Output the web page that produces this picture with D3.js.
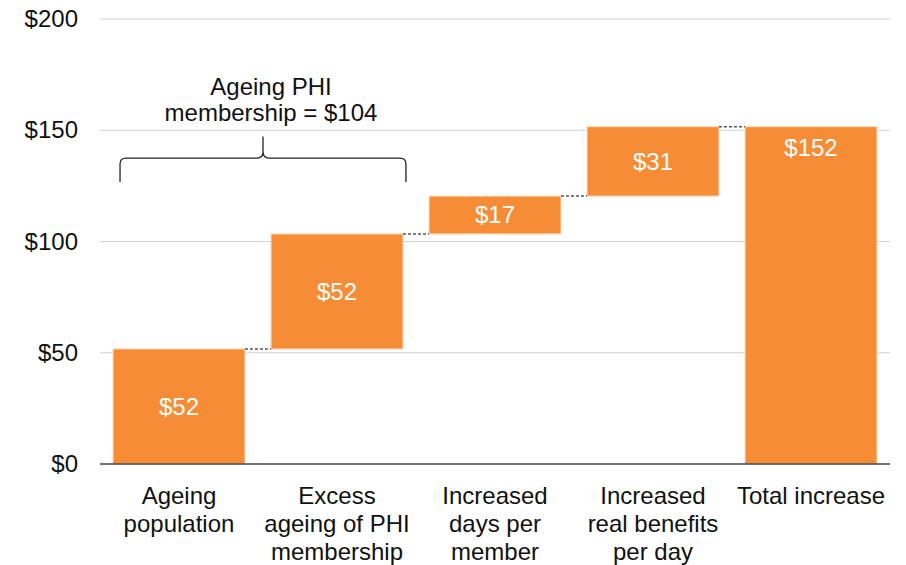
<!DOCTYPE html>
<html>
<head>
<meta charset="utf-8">
<script src="https://cdn.jsdelivr.net/npm/d3@7"></script>
<style>
  body { margin: 0; background: #fff; }
  text { font-family: "Liberation Sans", Arial, Helvetica, sans-serif; }
</style>
</head>
<body>
<div id="chart"><svg width="906" height="565"></svg></div>
<script>
// Data
let categories = [
  ["Ageing", "population"],
  ["Excess", "ageing of PHI", "membership"],
  ["Increased", "days per", "member"],
  ["Increased", "real benefits", "per day"],
  ["Total increase"]
];
let increments = [51.7, 51.7, 17.0, 31.2];
let total = 151.6;
let yTicks = [0, 50, 100, 150, 200];
let braceText = ["Ageing PHI", "membership = $104"];

// Global variables
let svg = d3.select("div#chart svg"),
  margin = { top: 19, right: 16, bottom: 101, left: 100 },
  width = svg.attr("width") - margin.left - margin.right,
  height = svg.attr("height") - margin.top - margin.bottom,
  g = svg.append("g").attr("transform", "translate(" + margin.left + "," + margin.top + ")");

// Build waterfall rows
let rows = [];
let running = 0;
increments.forEach((v, i) => {
  rows.push({ key: i, start: running, end: running + v, value: v, total: false });
  running += v;
});
rows.push({ key: increments.length, start: 0, end: total, value: total, total: true });

// Scales
let x = d3.scaleBand()
  .domain(rows.map(d => d.key))
  .range([0, width])
  .paddingInner(0.165)
  .paddingOuter(0.0825);
let y = d3.scaleLinear()
  .domain([0, 200])
  .range([height, 0]);

// Gridlines
g.append("g")
  .attr("class", "grid")
  .selectAll("line")
  .data(yTicks.filter(d => d > 0))
  .enter()
  .append("line")
    .attr("x1", 0)
    .attr("x2", width)
    .attr("y1", d => y(d))
    .attr("y2", d => y(d))
    .attr("stroke", "#cfd2d9")
    .attr("stroke-width", 1);

// Y axis labels
let yAxis = g.append("g")
  .attr("class", "axis axis_y")
  .call(d3.axisLeft(y).tickValues(yTicks).tickFormat(d => "$" + d).tickSize(0).tickPadding(22));
yAxis.select(".domain").remove();
yAxis.selectAll("text")
  .style("font-size", "24px")
  .style("fill", "#111");

// Bars
g.append("g")
  .attr("class", "bars")
  .selectAll("rect")
  .data(rows)
  .enter()
  .append("rect")
    .attr("x", d => x(d.key))
    .attr("y", d => y(d.end))
    .attr("width", x.bandwidth())
    .attr("height", d => y(d.start) - y(d.end))
    .attr("fill", "#f68d36")
    .attr("stroke", "#fcd9bb")
    .attr("stroke-width", 1);

// Connectors
g.append("g")
  .attr("class", "connectors")
  .selectAll("line")
  .data(rows.slice(0, -1))
  .enter()
  .append("line")
    .attr("x1", d => x(d.key) + x.bandwidth())
    .attr("x2", d => x(d.key + 1))
    .attr("y1", d => y(d.end))
    .attr("y2", d => y(d.end))
    .attr("stroke", "#555")
    .attr("stroke-width", 1.5)
    .attr("stroke-dasharray", "3,2");

// X axis baseline
g.append("line")
  .attr("x1", 0)
  .attr("x2", width)
  .attr("y1", y(0))
  .attr("y2", y(0))
  .attr("stroke", "#444")
  .attr("stroke-width", 1.5);

// Bar value labels
g.append("g")
  .attr("class", "values")
  .selectAll("text")
  .data(rows)
  .enter()
  .append("text")
    .attr("x", d => x(d.key) + x.bandwidth() / 2)
    .attr("y", d => d.total ? y(d.end) + 21 : (y(d.start) + y(d.end)) / 2)
    .attr("dy", "0.35em")
    .style("text-anchor", "middle")
    .style("font-size", "24px")
    .style("fill", "#fff")
    .text(d => "$" + Math.round(d.value));

// Category labels
let catLabels = g.append("g")
  .attr("class", "axis axis_x")
  .selectAll("text")
  .data(rows)
  .enter()
  .append("text")
    .attr("x", d => x(d.key) + x.bandwidth() / 2)
    .attr("y", height + 40)
    .style("text-anchor", "middle")
    .style("font-size", "24px")
    .style("fill", "#111");
catLabels.each(function(d) {
  let t = d3.select(this);
  categories[d.key].forEach((line, i) => {
    t.append("tspan")
      .attr("x", x(d.key) + x.bandwidth() / 2)
      .attr("dy", i == 0 ? 0 : 28)
      .text(line);
  });
});

// Brace over the first two bars
let xL = x(0) + 7,
  xR = x(1) + x.bandwidth() + 3,
  xM = (xL + xR) / 2,
  yEnd = y(126.7),
  yLine = y(137.5),
  yTip = y(147.2),
  r = 6;
let brace = d3.path();
brace.moveTo(xL, yEnd);
brace.lineTo(xL, yLine + r);
brace.quadraticCurveTo(xL, yLine, xL + r, yLine);
brace.lineTo(xM - r, yLine);
brace.quadraticCurveTo(xM, yLine, xM, yLine - r);
brace.lineTo(xM, yTip);
brace.moveTo(xM, yLine - r);
brace.quadraticCurveTo(xM, yLine, xM + r, yLine);
brace.lineTo(xR - r, yLine);
brace.quadraticCurveTo(xR, yLine, xR, yLine + r);
brace.lineTo(xR, yEnd);

g.append("path")
  .attr("class", "brace")
  .attr("d", brace.toString())
  .attr("fill", "none")
  .attr("stroke", "#222")
  .attr("stroke-width", 1.3);

// Brace annotation
let note = g.append("text")
  .attr("class", "annotation")
  .attr("x", xM + 8)
  .attr("y", yTip - 41)
  .style("text-anchor", "middle")
  .style("font-size", "24px")
  .style("fill", "#111");
braceText.forEach((line, i) => {
  note.append("tspan")
    .attr("x", xM + 8)
    .attr("dy", i == 0 ? 0 : 26)
    .text(line);
});
</script>
</body>
</html>
